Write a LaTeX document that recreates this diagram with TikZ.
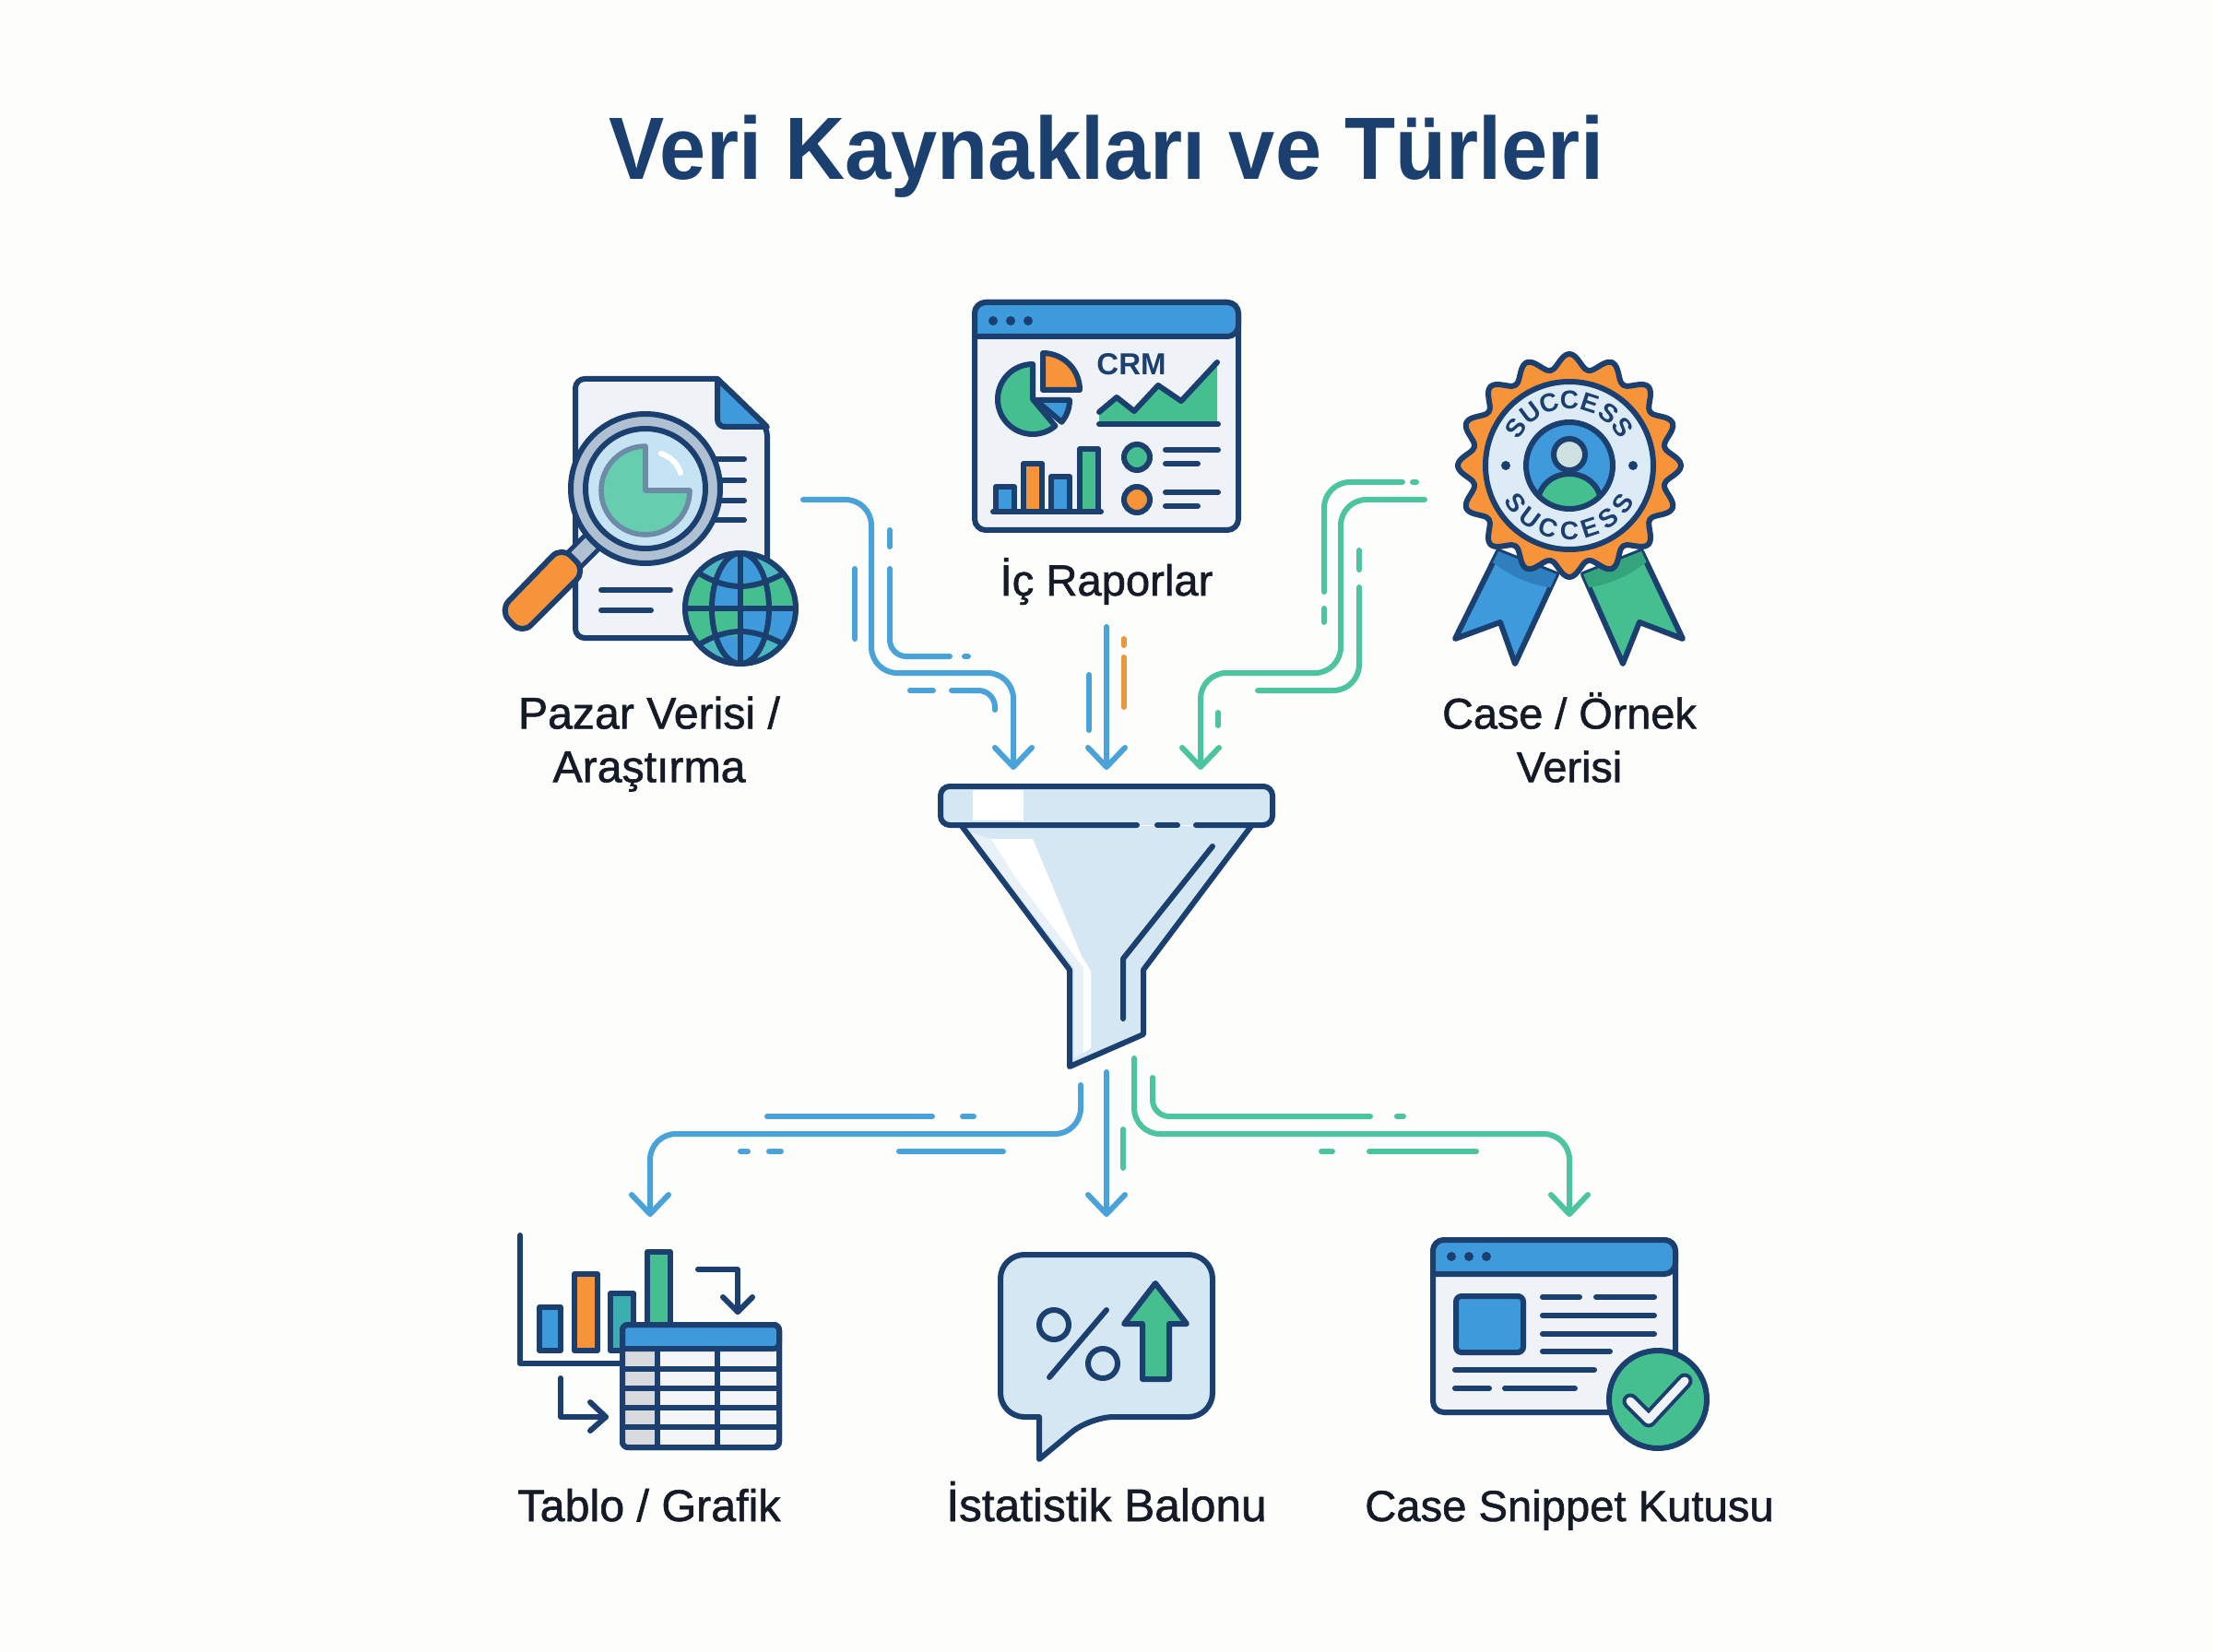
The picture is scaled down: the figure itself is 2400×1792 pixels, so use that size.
\documentclass[tikz,border=0pt]{standalone}
\usepackage{fontspec}
\setmainfont{Liberation Sans}
\newfontfamily\labfont[FakeBold=1.2]{Liberation Sans}
\newfontfamily\titlefont[FakeStretch=0.94]{Liberation Sans Bold}
\usetikzlibrary{arrows.meta}
\definecolor{navy}{HTML}{1B3F6E}
\definecolor{bluef}{HTML}{3E9ADB}
\definecolor{flowb}{HTML}{49A2D8}
\definecolor{flowg}{HTML}{4CC4A0}
\definecolor{greenf}{HTML}{45BF90}
\definecolor{orangef}{HTML}{F7943A}
\definecolor{oline}{HTML}{E8983F}
\definecolor{pale}{HTML}{D6E7F4}
\definecolor{paper}{HTML}{EFF3F7}
\definecolor{ink}{HTML}{151B26}
\definecolor{bgc}{HTML}{FDFDFB}
\definecolor{ring}{HTML}{AFC0D2}
\definecolor{lens}{HTML}{C6E3F3}
\definecolor{piegray}{HTML}{6C8CA6}
\definecolor{piegreen}{HTML}{66CDAE}
\definecolor{teal}{HTML}{4DB8C0}
\definecolor{badge}{HTML}{DCEBF5}
\definecolor{head}{HTML}{CFE0E0}
\definecolor{shadeb}{HTML}{2F7FBF}
\definecolor{shadeg}{HTML}{34A47C}
\definecolor{glass}{HTML}{E9F1F8}
\definecolor{cellg}{HTML}{D8DADE}
\definecolor{cellw}{HTML}{F4F5F7}
\definecolor{barteal}{HTML}{3BAFB0}
\tikzset{
  ol/.style={draw=navy,line width=3pt,line join=round,line cap=round},
  ln/.style={draw=navy,line width=3pt,line cap=round},
  tip/.style={-{Straight Barb[length=10.5pt,width=20pt,line cap=round,line join=round]}},
  fb/.style={draw=flowb,line width=3pt,line cap=round,rounded corners=14pt},
  fg/.style={draw=flowg,line width=3pt,line cap=round,rounded corners=14pt},
  fo/.style={draw=oline,line width=3pt,line cap=round},
  lab/.style={font=\labfont\fontsize{#1}{29}\selectfont,text=ink,align=center,inner sep=0pt},
  lab/.default=23.6,
  badgeletter/.style={font=\bfseries\fontsize{14}{16}\selectfont,text=navy,inner sep=0pt},
}
\begin{document}
\begin{tikzpicture}[x=0.5pt,y=-0.5pt]
\fill[bgc] (0,0) rectangle (2400,1792);
\useasboundingbox (0,0) rectangle (2400,1792);
\node[font=\titlefont\fontsize{48}{54}\selectfont,text=navy,anchor=base,inner sep=0pt] (title) at (1200,195) {Veri Kaynakları ve Türleri};

% ---- market research icon
\path[ol,fill=paper,rounded corners=5pt] (778,411) -- (624,411) -- (624,692) -- (832,692) -- (832,463) [sharp corners] -- cycle;
\path[ol,fill=bluef] (778,411) -- (832,463) -- (788,463) [rounded corners=4pt] -- (778,463) [sharp corners] -- cycle;
\foreach \yy in {498,521,543,564} \draw[ln] (770,\yy) -- (807,\yy);
\draw[ln] (652,640) -- (727,640);
\draw[ln] (652,662) -- (706,662);
\draw[navy,line width=13pt] (645,585) -- (620,610);
\draw[ring,line width=8pt] (645,585) -- (620,610);
\path[ol,fill=orangef,rounded corners=7pt] (635,619) -- (609,593) -- (542,662) -- (566,688) -- cycle;
\path[ol,fill=ring] (700,530) circle[radius=81];
\path[ol,fill=lens] (700,530) circle[radius=65];
\path[draw=piegray,line width=2.8pt,fill=piegreen,line join=round] (700,532) -- (700,484) arc[start angle=-90,end angle=-360,radius=48] -- cycle;
\draw[white,line width=3pt,line cap=round] (717,492) .. controls (728,496) and (735,503) .. (738,513);
\begin{scope}
  \clip (803,660) circle[radius=60];
  \fill[greenf] (740,595) rectangle (870,725);
  \fill[bluef] (835,660) rectangle (870,725);
  \fill[teal] (740,610) -- (760,623) .. controls (775,632) and (790,636) .. (803,636) .. controls (816,636) and (831,632) .. (848,623) -- (870,610) -- (870,595) -- (740,595) -- cycle;
  \fill[teal] (740,710) -- (760,698) .. controls (775,689) and (790,685) .. (803,685) .. controls (816,685) and (831,689) .. (848,698) -- (870,710) -- (870,725) -- (740,725) -- cycle;
  \clip (803,660) ellipse[x radius=31,y radius=60];
  \fill[bluef] (770,595) rectangle (836,636);
  \fill[bluef] (770,685) rectangle (836,725);
  \fill[bluef] (770,632) rectangle (803,660);
  \fill[greenf] (803,632) rectangle (836,660);
  \fill[greenf] (770,660) rectangle (803,690);
  \fill[bluef] (803,660) rectangle (836,690);
\end{scope}
\begin{scope}
  \clip (803,660) circle[radius=60];
  \path[ol] (755,620) -- (760,623) .. controls (775,632) and (790,636) .. (803,636) .. controls (816,636) and (831,632) .. (848,623) -- (853,620);
  \path[ol] (755,701) -- (760,698) .. controls (775,689) and (790,685) .. (803,685) .. controls (816,685) and (831,689) .. (848,698) -- (853,701);
  \path[ol] (743,660) -- (863,660);
  \path[ol] (803,600) -- (803,720);
  \path[ol] (803,660) ellipse[x radius=31,y radius=60];
\end{scope}
\path[ol] (803,660) circle[radius=60];
\node[lab=24.1] (market) at (704,807) {Pazar Verisi /\\Araştırma};

% ---- CRM dashboard icon
\path[ol,fill=paper,rounded corners=6pt] (1057,328) rectangle (1343,575);
\path[ol,fill=bluef,rounded corners=6pt] (1057,365) -- (1057,328) -- (1343,328) -- (1343,365) [sharp corners] -- cycle;
\foreach \xx in {1077,1096,1115} \fill[navy] (\xx,348) circle[radius=5];
\path[ol,fill=greenf] (1120,433) -- (1120,395) arc[start angle=-90,end angle=-310,radius=38] -- cycle;
\path[ol,fill=orangef] (1131,423) -- (1131,383) arc[start angle=-90,end angle=0,radius=40] -- cycle;
\path[ol,fill=bluef] (1123,434) -- (1160,434) arc[start angle=0,end angle=40,radius=37] -- cycle;
\node[font=\bfseries\fontsize{16.5}{18}\selectfont,text=navy,inner sep=0pt] (crm) at (1227,395) {CRM};
\fill[greenf] (1192,447) -- (1211,431) -- (1230,446) -- (1256,418) -- (1281,435) -- (1320,393) -- (1320,460) -- (1192,460) -- cycle;
\path[ol] (1192,447) -- (1211,431) -- (1230,446) -- (1256,418) -- (1281,435) -- (1320,393);
\draw[ln] (1192,460) -- (1321,460);
\path[ol,fill=bluef] (1080,555) rectangle (1100,528);
\path[ol,fill=orangef] (1110,555) rectangle (1130,503);
\path[ol,fill=bluef] (1140,555) rectangle (1160,517);
\path[ol,fill=greenf] (1171,555) rectangle (1191,487);
\draw[ln] (1077,555) -- (1194,555);
\path[ol,fill=greenf] (1233,496) circle[radius=14];
\path[ol,fill=orangef] (1233,542) circle[radius=14];
\draw[ln] (1264,488) -- (1321,488);
\draw[ln] (1264,503) -- (1299,503);
\draw[ln] (1264,534) -- (1321,534);
\draw[ln] (1264,549) -- (1299,549);
\node[lab,anchor=base] (reports) at (1200,646) {İç Raporlar};

% ---- success badge icon
\path[ol,fill=bluef] (1625,598) -- (1578,693) -- (1627,675) -- (1643,720) -- (1688,623) -- cycle;
\path[ol,fill=greenf] (1780,598) -- (1825,693) -- (1778,675) -- (1760,720) -- (1717,623) -- cycle;
\begin{scope}
  \clip (1625,598) -- (1578,693) -- (1627,675) -- (1643,720) -- (1688,623) -- cycle;
  \fill[shadeb] (1702,505) circle[radius=134];
\end{scope}
\begin{scope}
  \clip (1780,598) -- (1825,693) -- (1778,675) -- (1760,720) -- (1717,623) -- cycle;
  \fill[shadeg] (1702,505) circle[radius=134];
\end{scope}
\path[ol,fill=orangef] plot[domain=0:360,samples=193,smooth] ({1702+(113+8*cos(16*\x))*cos(\x)},{505+(113+8*cos(16*\x))*sin(\x)}) -- cycle;
\path[ol,fill=badge] (1702,505) circle[radius=91];
\fill[navy] (1633,505) circle[radius=5];
\fill[navy] (1771,505) circle[radius=5];
\begin{scope}
  \clip (1702,505) circle[radius=47];
  \fill[bluef] (1702,505) circle[radius=47];
  \path[ol,fill=greenf] (1702,545) ellipse[x radius=34,y radius=31];
\end{scope}
\path[ol,fill=head] (1702,493) circle[radius=17];
\path[ol] (1702,505) circle[radius=47];
\foreach \ch [count=\i] in {S,U,C,C,E,S,S}{
  \pgfmathsetmacro\aa{145-(\i-1)*18.3}
  \node[badgeletter,rotate=\aa-90] (st\i) at ({1702+71*cos(\aa)},{505-71*sin(\aa)}) {\ch};
  \pgfmathsetmacro\bb{-145+(\i-1)*18.3}
  \node[badgeletter,rotate=\bb+90] (sb\i) at ({1702+71*cos(\bb)},{505-71*sin(\bb)}) {\ch};
}
\node[lab=23.4] (cases) at (1702,800) {Case / Örnek\\Verisi};

% ---- funnel
\fill[pale] (1043,896) -- (1160,1052) -- (1160,1157) -- (1240,1122) -- (1240,1052) -- (1357,896) -- cycle;
\fill[glass] (1052,903) -- (1075,910) -- (1100,950) -- (1175,1050) -- (1175,1142) -- (1165,1148) -- (1165,1050) -- cycle;
\fill[white] (1075,910) -- (1120,910) -- (1173,1037) -- (1183,1053) -- (1183,1137) -- (1175,1142) -- (1175,1050) -- (1100,950) -- cycle;
\path[ol] (1043,896) -- (1160,1052) -- (1160,1157) -- (1240,1122) -- (1240,1052) -- (1357,896);
\path[ol] (1315,918) -- (1218,1040) [rounded corners=4pt] -- (1218,1050) [sharp corners] -- (1218,1105);
\fill[pale,rounded corners=5pt] (1020,853) rectangle (1380,895);
\fill[white] (1055,857) rectangle (1110,890);
\path[ol,rounded corners=5pt] (1233,895) -- (1020,895) -- (1020,853) -- (1380,853) -- (1380,895) -- (1297,895);
\draw[ln] (1255,895) -- (1277,895);

% ---- named ends of the connectors
\coordinate (in1) at (1099,835);
\coordinate (in2) at (1200,835);
\coordinate (in3) at (1302,835);
\coordinate (out1) at (705,1320);
\coordinate (out2) at (1200,1320);
\coordinate (out3) at (1702,1320);
\coordinate (s1) at (871,542);
\coordinate (s2) at (1200,680);
\coordinate (s3) at (1545,542);
\coordinate (f1) at (1172,1177);
\coordinate (f2) at (1200,1163);
\coordinate (f3) at (1230,1148);

% ---- connectors into the funnel
\draw[fb,tip] (s1) -- (945,542) -- (945,730) -- (1099,730) -- (in1);
\draw[fb,rounded corners=0pt,tip] (s2) -- (in2);
\draw[fg,tip] (s3) -- (1454,542) -- (1454,730) -- (1302,730) -- (in3);
\draw[fb] (965,575) -- (965,593);
\draw[fb,rounded corners=9pt] (965,617) -- (965,712) -- (1030,712);
\draw[fb] (1046,712) -- (1050,712);
\draw[fb] (927,617) -- (927,693);
\draw[fb] (987,749) -- (1012,749);
\draw[fb,rounded corners=9pt] (1032,749) -- (1079,749) -- (1079,770);
\draw[fb] (1181,732) -- (1181,792);
\draw[fo] (1218.5,693) -- (1218.5,700);
\draw[fo] (1218.5,713) -- (1218.5,767);
\draw[fg] (1521,523) -- (1436,523) -- (1436,642);
\draw[fg] (1532,523) -- (1536,523);
\draw[fg] (1436,660) -- (1436,675);
\draw[fg] (1474,637) -- (1474,749) -- (1364,749);
\draw[fg] (1474,597) -- (1474,618);
\draw[fg] (1321,773) -- (1321,787);

% ---- connectors out of the funnel
\draw[fb,tip] (f1) -- (1172,1230) -- (705,1230) -- (out1);
\draw[fb,rounded corners=0pt,tip] (f2) -- (out2);
\draw[fg,tip] (f3) -- (1230,1230) -- (1702,1230) -- (out3);
\draw[fb] (832,1211) -- (1011,1211);
\draw[fb] (1044,1211) -- (1056,1211);
\draw[fb] (803,1249) -- (811,1249);
\draw[fb] (834,1249) -- (847,1249);
\draw[fb] (975,1249) -- (1088,1249);
\draw[fg] (1218,1225) -- (1218,1267);
\draw[fg,rounded corners=9pt] (1250,1169) -- (1250,1211) -- (1486,1211);
\draw[fg] (1515,1211) -- (1522,1211);
\draw[fg] (1433,1249) -- (1445,1249);
\draw[fg] (1485,1249) -- (1601,1249);

% ---- table / chart icon
\path[ol] (564,1340) -- (564,1479) -- (680,1479);
\path[ol,fill=bluef] (585,1465) rectangle (608,1418);
\path[ol,fill=orangef] (623,1465) rectangle (648,1382);
\path[ol,fill=barteal] (662,1465) rectangle (687,1403);
\path[ol,fill=greenf] (702,1465) rectangle (727,1358);
\path[ol] (757,1377) -- (800,1377) -- (800,1423);
\path[ol] (784,1407) -- (800,1423) -- (816,1407);
\path[ol] (608,1495) -- (608,1537) -- (657,1537);
\path[ol] (640,1521) -- (657,1537) -- (640,1552);
\path[ol,fill=cellw,rounded corners=3pt] (675,1437) rectangle (845,1570);
\fill[cellg] (675,1463) rectangle (713,1570);
\path[ol,fill=bluef,rounded corners=3pt] (675,1463) -- (675,1437) -- (845,1437) -- (845,1463) [sharp corners] -- cycle;
\foreach \yy in {1485,1506,1527,1548} \draw[navy,line width=3pt] (675,\yy) -- (845,\yy);
\foreach \xx in {713,778} \draw[navy,line width=3pt] (\xx,1463) -- (\xx,1570);
\path[ol,rounded corners=3pt] (675,1437) rectangle (845,1570);
\node[lab=24.2,anchor=base] (tablo) at (704,1650) {Tablo / Grafik};

% ---- statistic bubble icon
\path[ol,fill=pale,rounded corners=13pt] (1127,1537) -- (1085,1537) -- (1085,1361) -- (1315,1361) -- (1315,1537) -- (1182,1537) [sharp corners] -- (1127,1583) -- cycle;
\path[ol] (1143,1437) circle[radius=16];
\path[ol] (1196,1479) circle[radius=16];
\path[ol] (1200,1421) -- (1138,1494);
\path[ol,fill=greenf] (1253,1392) -- (1219,1436) -- (1239,1436) -- (1239,1496) -- (1268,1496) -- (1268,1436) -- (1287,1436) -- cycle;
\node[lab=24.8,anchor=base] (balon) at (1200,1650) {İstatistik Balonu};

% ---- case snippet icon
\path[ol,fill=paper,rounded corners=6pt] (1554,1345) rectangle (1817,1532);
\path[ol,fill=bluef,rounded corners=6pt] (1554,1382) -- (1554,1345) -- (1817,1345) -- (1817,1382) [sharp corners] -- cycle;
\foreach \xx in {1574,1593,1612} \fill[navy] (\xx,1363) circle[radius=5];
\path[ol,fill=bluef,rounded corners=3pt] (1579,1406) rectangle (1652,1467);
\draw[ln] (1673,1407) -- (1713,1407);
\draw[ln] (1731,1407) -- (1794,1407);
\draw[ln] (1673,1427) -- (1794,1427);
\draw[ln] (1673,1447) -- (1794,1447);
\draw[ln] (1673,1466) -- (1746,1466);
\draw[ln] (1578,1486) -- (1729,1486);
\draw[ln] (1578,1506) -- (1615,1506);
\draw[ln] (1632,1506) -- (1708,1506);
\path[ol,fill=greenf] (1798,1518) circle[radius=53];
\draw[navy,line width=8.5pt,line cap=round,line join=round] (1768,1520) -- (1788,1540) -- (1827,1498);
\draw[paper,line width=4.5pt,line cap=round,line join=round] (1768,1520) -- (1788,1540) -- (1827,1498);
\node[lab,anchor=base] (snippet) at (1702,1650) {Case Snippet Kutusu};
\end{tikzpicture}
\end{document}
